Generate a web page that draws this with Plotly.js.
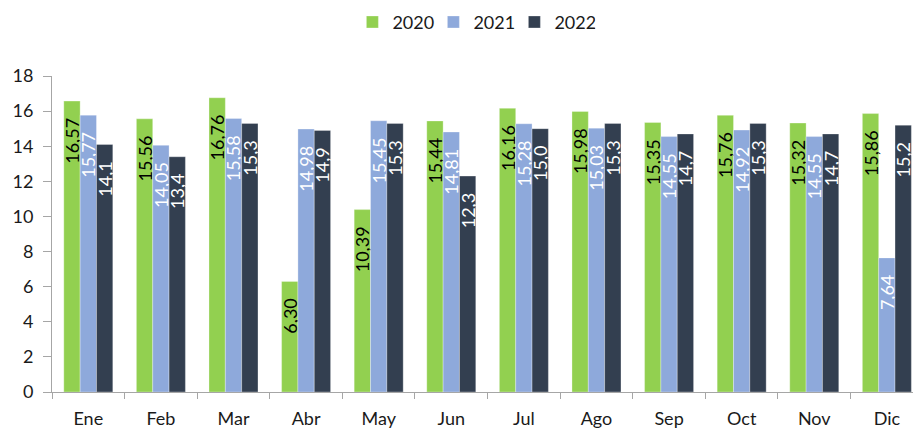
<!DOCTYPE html>
<html>
<head>
<meta charset="utf-8">
<script src="https://cdn.plot.ly/plotly-3.0.1.min.js"></script>
<style>html,body{margin:0;padding:0;background:#fff;}#chart{width:913px;height:429px;}</style>
</head>
<body>
<div id="chart"></div>
<script>
const months = ["Ene","Feb","Mar","Abr","May","Jun","Jul","Ago","Sep","Oct","Nov","Dic"];
const v2020 = [16.57,15.56,16.76,6.30,10.39,15.44,16.16,15.98,15.35,15.76,15.32,15.86];
const v2021 = [15.77,14.05,15.58,14.98,15.45,14.81,15.28,15.03,14.55,14.92,14.55,7.64];
const v2022 = [14.1,13.4,15.3,14.9,15.3,12.3,15.0,15.3,14.7,15.3,14.7,15.2];

const PADSTR = '\u00A0\u00A0\u00A0';
const fmt = (arr, d) => arr.map(v => v.toFixed(d).replace('.', ',') + PADSTR);
const FONT = "Lato, 'Open Sans', sans-serif";

function mk(name, vals, dec, color, txtColor) {
  return {
    type: 'bar', name: name, x: months, y: vals,
    text: fmt(vals, dec), textposition: 'inside', insidetextanchor: 'end',
    textangle: -90, constraintext: 'none',
    textfont: {family: FONT, size: 18, color: txtColor},
    marker: {color: color, line: {color: 'rgba(255,255,255,0.6)', width: 0.5}},
    hoverinfo: 'none'
  };
}

const data = [
  mk('2020', v2020, 2, '#92D050', '#000000'),
  mk('2021', v2021, 2, '#8EA9DB', '#FFFFFF'),
  mk('2022', v2022, 1, '#333F50', '#FFFFFF')
];

const layout = {
  width: 913, height: 429,
  margin: {l: 52, r: 0, t: 76, b: 37, autoexpand: false},
  paper_bgcolor: '#fff', plot_bgcolor: '#fff',
  barmode: 'group', bargap: 0.325, bargroupgap: 0,
  font: {family: FONT, size: 18, color: '#1a1a1a'},
  showlegend: true,
  legend: {orientation: 'h', x: 0.49, xanchor: 'center', y: 1.17, yanchor: 'middle',
           font: {family: FONT, size: 18, color: '#1a1a1a'}, itemwidth: 30,
           entrywidth: 36, entrywidthmode: 'pixels'},
  xaxis: {
    type: 'category', range: [-0.5, 11.36], showgrid: false,
    showline: true, linecolor: '#A6A6A6', linewidth: 1,
    ticks: 'outside', tickson: 'boundaries', ticklen: 6, tickcolor: '#A6A6A6',
    ticklabelstandoff: 10,
    tickfont: {family: FONT, size: 18, color: '#1a1a1a'}, fixedrange: true
  },
  yaxis: {
    range: [0, 18], dtick: 2, showgrid: false, zeroline: false,
    showline: true, linecolor: '#A6A6A6', linewidth: 1,
    ticks: 'outside', ticklen: 8, tickcolor: '#A6A6A6',
    ticklabelstandoff: 6,
    tickfont: {family: FONT, size: 18, color: '#1a1a1a'}, fixedrange: true
  }
};

Plotly.newPlot('chart', data, layout, {displayModeBar: false, staticPlot: true});
</script>
</body>
</html>
